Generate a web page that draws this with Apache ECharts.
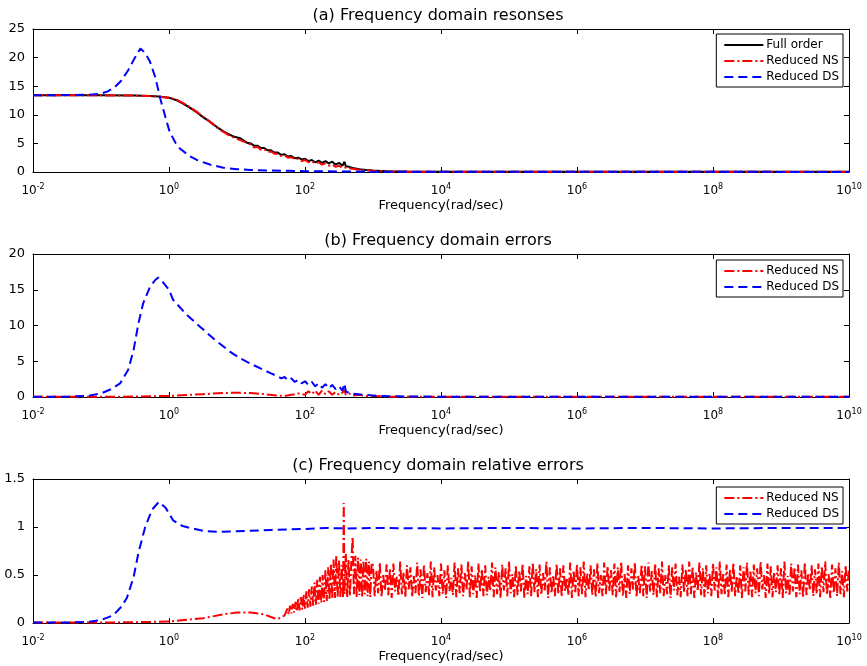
<!DOCTYPE html>
<html><head><meta charset="utf-8">
<script src="https://cdn.jsdelivr.net/npm/echarts@6/dist/echarts.min.js"></script>
<style>html,body{margin:0;padding:0;background:#fff}#c{width:867px;height:666px}</style>
</head><body><div id="c"></div><script>
// All series points are [log10(frequency in rad/sec), value]
const panelTitles = ['(a) Frequency domain resonses', '(b) Frequency domain errors', '(c) Frequency domain relative errors'];
const xName = 'Frequency(rad/sec)';
const xMin = 0.01, xMax = 1e10;
const yRanges = [[0, 25, 5], [0, 20, 5], [0, 1.5, 0.5]];

const fullOrderResp = [[-2,13.4],[-1.5,13.4],[-1,13.4],[-0.5,13.38],[-0.3,13.3],[-0.15,13.2],[0,13.0],[0.1,12.6],[0.2,12.0],[0.3,11.3],[0.4,10.5],[0.5,9.6],[0.6,8.8],[0.7,7.9],[0.8,7.1],[0.9,6.5],[0.95,6.2],[1.0,6.05],[1.05,5.9],[1.1,5.5],[1.15,5.1],[1.2,5.0],[1.25,4.6],[1.3,4.6],[1.35,4.2],[1.4,4.2],[1.45,3.8],[1.5,3.8],[1.55,3.4],[1.6,3.4],[1.65,3.0],[1.7,3.1],[1.75,2.7],[1.8,2.8],[1.85,2.4],[1.9,2.5],[1.95,2.2],[2.0,2.3],[2.05,1.9],[2.1,2.1],[2.15,1.7],[2.2,2.0],[2.25,1.6],[2.3,1.9],[2.35,1.5],[2.4,1.8],[2.45,1.3],[2.5,1.6],[2.55,1.1],[2.58,1.8],[2.6,1.0],[2.65,0.9],[2.7,0.7],[2.8,0.5],[2.9,0.35],[3.0,0.25],[3.2,0.15],[3.5,0.07],[4,0.04],[6,0.03],[10,0.03]];
const nsResp = [[-2,13.4],[-1,13.4],[-0.5,13.35],[-0.3,13.3],[-0.15,13.15],[0,13.0],[0.1,12.7],[0.2,12.1],[0.3,11.4],[0.4,10.6],[0.5,9.7],[0.6,8.8],[0.7,7.8],[0.8,7.0],[0.9,6.3],[1.0,5.8],[1.1,5.3],[1.2,4.8],[1.25,4.3],[1.3,4.4],[1.35,3.9],[1.4,4.0],[1.45,3.5],[1.5,3.6],[1.55,3.2],[1.6,3.2],[1.65,2.8],[1.7,2.9],[1.75,2.5],[1.8,2.6],[1.85,2.2],[1.9,2.3],[1.95,1.9],[2.0,2.1],[2.05,1.7],[2.1,1.9],[2.15,1.5],[2.2,1.7],[2.25,1.3],[2.3,1.5],[2.35,1.1],[2.4,1.3],[2.45,0.9],[2.5,1.1],[2.55,0.7],[2.6,0.8],[2.7,0.55],[2.8,0.4],[2.9,0.28],[3.0,0.2],[3.2,0.12],[3.5,0.06],[4,0.04],[10,0.03]];
const dsResp = [[-2,13.4],[-1.5,13.45],[-1.2,13.5],[-1.0,13.7],[-0.9,14.1],[-0.8,14.8],[-0.7,16.0],[-0.6,17.8],[-0.5,20.0],[-0.42,21.6],[-0.35,20.8],[-0.28,19.3],[-0.2,16.5],[-0.13,12.9],[-0.05,9.5],[0.01,7.0],[0.1,5.0],[0.16,4.1],[0.3,2.8],[0.41,2.1],[0.6,1.3],[0.8,0.75],[1.0,0.5],[1.2,0.35],[1.5,0.25],[1.75,0.2],[2,0.15],[2.5,0.1],[3,0.06],[4,0.03],[10,0.02]];

const nsErr = [[-2,0.02],[-1,0.03],[-0.5,0.06],[0,0.15],[0.5,0.4],[0.8,0.55],[1.0,0.6],[1.2,0.55],[1.4,0.4],[1.6,0.2],[1.7,0.15],[1.8,0.3],[1.9,0.5],[2.0,0.3],[2.05,0.8],[2.1,0.4],[2.15,0.9],[2.2,0.3],[2.25,0.9],[2.3,0.4],[2.35,0.8],[2.4,0.3],[2.45,0.7],[2.5,0.3],[2.55,0.6],[2.58,1.0],[2.6,0.3],[2.65,0.5],[2.7,0.2],[2.8,0.3],[2.9,0.1],[3.0,0.15],[3.2,0.05],[3.5,0.03],[4,0.02],[10,0.02]];
const dsErr = [[-2,0.05],[-1.5,0.05],[-1.2,0.15],[-1.0,0.5],[-0.85,1.1],[-0.72,1.9],[-0.6,3.8],[-0.52,6.6],[-0.45,10.3],[-0.38,13.1],[-0.28,15.4],[-0.2,16.4],[-0.157,16.7],[-0.1,16.2],[0,15.0],[0.06,13.6],[0.26,11.5],[0.46,9.8],[0.65,8.2],[0.9,6.3],[1.05,5.4],[1.19,4.7],[1.39,3.8],[1.5,3.3],[1.6,2.9],[1.65,2.6],[1.7,2.8],[1.75,2.3],[1.8,2.6],[1.85,2.1],[1.9,2.4],[1.95,1.9],[2.0,2.2],[2.05,1.7],[2.1,2.1],[2.15,1.5],[2.2,1.9],[2.25,1.3],[2.3,1.8],[2.35,1.2],[2.4,1.7],[2.45,1.1],[2.5,1.5],[2.55,0.9],[2.58,1.9],[2.6,0.8],[2.66,0.5],[2.86,0.3],[3.1,0.15],[3.5,0.07],[4,0.04],[10,0.02]];

const dsRelErr = [[-2,0.005],[-1.5,0.005],[-1.2,0.01],[-1.0,0.03],[-0.82,0.08],[-0.7,0.17],[-0.62,0.26],[-0.52,0.48],[-0.45,0.73],[-0.35,1.0],[-0.25,1.18],[-0.15,1.26],[-0.05,1.2],[0.06,1.07],[0.2,1.01],[0.31,0.99],[0.5,0.96],[0.7,0.95],[1.0,0.955],[1.5,0.97],[2.0,0.98],[2.3,0.99],[2.6,0.985],[3,0.99],[4,0.985],[5,0.99],[6,0.985],[7,0.99],[8,0.985],[9,0.99],[10,0.99]];
const nsRelErrRamp = [[-2,0.005],[-1,0.005],[-0.5,0.008],[0,0.015],[0.5,0.05],[0.8,0.09],[1.0,0.11],[1.2,0.11],[1.4,0.09],[1.55,0.05],[1.6,0.04],[1.7,0.08],
[1.72,0.1],[1.74,0.15],[1.76,0.09],[1.78,0.18],[1.80,0.1],[1.82,0.2],[1.84,0.11],[1.86,0.22],[1.88,0.12],[1.90,0.26],[1.92,0.13],[1.94,0.27],[1.96,0.14],[1.98,0.3],
[2.00,0.15],[2.02,0.33],[2.04,0.16],[2.06,0.35],[2.08,0.17],[2.10,0.38],[2.12,0.18],[2.14,0.42],[2.16,0.19],[2.18,0.45],[2.20,0.2],[2.22,0.48],[2.24,0.21],[2.26,0.5],
[2.28,0.22],[2.30,0.55],[2.32,0.23],[2.34,0.58],[2.36,0.24],[2.38,0.62],[2.40,0.25],[2.42,0.66],[2.44,0.26],[2.46,0.70],[2.48,0.26],[2.50,0.65],[2.52,0.27],[2.54,0.6],
[2.56,0.27],[2.57,1.25],[2.58,0.3],[2.60,0.72],[2.62,0.27],[2.64,0.66],[2.66,0.28],[2.68,0.62],[2.70,0.9],[2.72,0.3],[2.74,0.7],[2.76,0.27],[2.78,0.68],[2.80,0.29],
[2.82,0.66],[2.84,0.27],[2.86,0.65],[2.88,0.3],[2.90,0.67],[2.92,0.28],[2.94,0.64],[2.96,0.27],[2.98,0.63]];
// noisy band sampled every 0.025 decade from 10^3 to 10^10
const nsRelErrBandStartExp = 3.0, nsRelErrBandStepExp = 0.025;
const nsRelErrBand = [
0.60,0.28,0.55,0.31,0.63,0.27,0.50,0.34,0.61,0.29,0.57,0.26,0.62,0.33,0.48,0.28,0.64,0.30,0.53,0.27,
0.60,0.35,0.58,0.27,0.49,0.31,0.63,0.28,0.56,0.26,0.61,0.32,0.52,0.29,0.64,0.27,0.58,0.34,0.50,0.28,
0.62,0.30,0.55,0.26,0.60,0.33,0.47,0.29,0.63,0.27,0.57,0.31,0.61,0.28,0.52,0.35,0.64,0.27,0.59,0.30,
0.50,0.26,0.62,0.32,0.56,0.28,0.60,0.29,0.48,0.33,0.63,0.27,0.58,0.30,0.53,0.26,0.61,0.34,0.57,0.28,
0.64,0.31,0.51,0.27,0.60,0.29,0.55,0.33,0.62,0.26,0.49,0.30,0.59,0.28,0.63,0.32,0.56,0.27,0.61,0.29,
0.52,0.34,0.64,0.26,0.58,0.31,0.50,0.28,0.62,0.30,0.57,0.27,0.60,0.33,0.47,0.29,0.63,0.26,0.55,0.32,
0.61,0.28,0.58,0.30,0.64,0.27,0.52,0.34,0.60,0.29,0.56,0.27,0.62,0.31,0.50,0.28,0.63,0.30,0.59,0.33,
0.55,0.29,0.62,0.27,0.58,0.32,0.64,0.28,0.51,0.26,0.60,0.30,0.57,0.35,0.63,0.27,0.49,0.31,0.61,0.28,
0.59,0.26,0.63,0.33,0.54,0.29,0.62,0.27,0.57,0.31,0.64,0.28,0.50,0.30,0.60,0.26,0.58,0.34,0.62,0.29,
0.48,0.27,0.61,0.32,0.56,0.28,0.64,0.30,0.59,0.26,0.53,0.33,0.63,0.29,0.57,0.27,0.60,0.31,0.52,0.28,
0.62,0.34,0.58,0.26,0.64,0.30,0.51,0.29,0.61,0.27,0.56,0.32,0.63,0.28,0.49,0.30,0.60,0.26,0.58,0.33,
0.63,0.29,0.55,0.27,0.61,0.31,0.57,0.28,0.64,0.35,0.50,0.26,0.62,0.30,0.59,0.27,0.53,0.32,0.60,0.29,
0.57,0.26,0.64,0.31,0.49,0.28,0.62,0.33,0.58,0.27,0.61,0.30,0.55,0.26,0.63,0.29,0.52,0.34,0.60,0.28,
0.56,0.30,0.62,0.27,0.59,0.32,0.64,0.29,0.51,0.26,0.61,0.31,0.57,0.28,0.63,0.30,0.54,0.27,0.60,0.33,
0.58];

const toXY = arr => arr.map(p => [Math.pow(10, p[0]), p[1]]);
const nsRelErrAll = toXY(nsRelErrRamp).concat(
  nsRelErrBand.map((v, i) => [Math.pow(10, nsRelErrBandStartExp + i * nsRelErrBandStepExp), v]));

const FONT = 'DejaVu Sans';
const gridTops = [29, 254, 479];
const gridHeights = [143, 143, 144];
const lineStyles = {
  'Full order': {color: '#000000', width: 2, type: 'solid'},
  'Reduced NS': {color: '#ff0000', width: 2, type: [10, 3, 2, 3]},
  'Reduced DS': {color: '#0000ff', width: 2, type: [9, 5]}
};

const grids = [], xAxes = [], yAxes = [], titles = [], legends = [], series = [];
for (let i = 0; i < 3; i++) {
  grids.push({left: 33, top: gridTops[i], width: 816, height: gridHeights[i], containLabel: false});
  titles.push({text: panelTitles[i], left: 438, top: gridTops[i] - 21, textAlign: 'center', padding: 0,
    textStyle: {fontFamily: FONT, fontSize: 16, fontWeight: 'normal', color: '#000'}});
  const tick = {show: true, inside: true, length: 5, lineStyle: {color: '#000', width: 1}};
  const line = {show: true, onZero: false, lineStyle: {color: '#000', width: 1}};
  xAxes.push({type: 'log', logBase: 10, gridIndex: i, min: xMin, max: xMax, interval: 2, splitNumber: 6,
    position: 'bottom', axisLine: line, axisTick: tick, splitLine: {show: false}, minorTick: {show: false},
    axisLabel: {color: '#000', margin: 11, showMinLabel: true, showMaxLabel: true,
      formatter: v => '{b|10}{s|' + Math.round(Math.log10(v)) + '}',
      rich: {b: {fontFamily: FONT, fontSize: 12, color: '#000'}, s: {fontFamily: FONT, fontSize: 8, color: '#000', padding: [0, 0, 8, 0]}}},
    name: xName, nameLocation: 'middle', nameGap: 27,
    nameTextStyle: {fontFamily: FONT, fontSize: 13, color: '#000'}});
  xAxes.push({type: 'log', logBase: 10, gridIndex: i, min: xMin, max: xMax, interval: 2, splitNumber: 6,
    position: 'top', axisLine: line, axisTick: tick, axisLabel: {show: false}, splitLine: {show: false}});
  const [ymin, ymax, yint] = yRanges[i];
  yAxes.push({type: 'value', gridIndex: i, min: ymin, max: ymax, interval: yint, position: 'left',
    axisLine: line, axisTick: tick, splitLine: {show: false},
    axisLabel: {color: '#000', fontFamily: FONT, fontSize: 13, margin: 8}});
  yAxes.push({type: 'value', gridIndex: i, min: ymin, max: ymax, interval: yint, position: 'right',
    axisLine: line, axisTick: tick, splitLine: {show: false}, axisLabel: {show: false}});
}

function addSeries(name, gi, data) {
  series.push({name, type: 'line', xAxisIndex: 2 * gi, yAxisIndex: 2 * gi, data,
    symbol: 'none', showSymbol: false, lineStyle: lineStyles[name],
    itemStyle: {color: lineStyles[name].color}, smooth: false, animation: false, z: 2});
}
addSeries('Full order', 0, toXY(fullOrderResp));
addSeries('Reduced NS', 0, toXY(nsResp));
addSeries('Reduced DS', 0, toXY(dsResp));
addSeries('Reduced NS', 1, toXY(nsErr));
addSeries('Reduced DS', 1, toXY(dsErr));
addSeries('Reduced NS', 2, nsRelErrAll);
addSeries('Reduced DS', 2, toXY(dsRelErr));

const legendTops = [34, 260, 487];
const legendItems = [['Full order', 'Reduced NS', 'Reduced DS'], ['Reduced NS', 'Reduced DS'], ['Reduced NS', 'Reduced DS']];
for (let i = 0; i < 3; i++) {
  legends.push({data: legendItems[i], orient: 'vertical', right: 24, top: legendTops[i],
    itemWidth: 39, itemHeight: 10, itemGap: 4, padding: [5, 4, 4, 7],
    itemStyle: {opacity: 0},
    borderColor: '#000', borderWidth: 1, backgroundColor: '#fff', borderRadius: 0,
    textStyle: {fontFamily: FONT, fontSize: 12, color: '#000', padding: [0, 0, 0, -2]},
    selectedMode: false});
}

const chart = echarts.init(document.getElementById('c'), null, {renderer: 'canvas'});
chart.setOption({backgroundColor: '#fff', animation: false, title: titles, grid: grids,
  xAxis: xAxes, yAxis: yAxes, legend: legends, series});
</script></body></html>
